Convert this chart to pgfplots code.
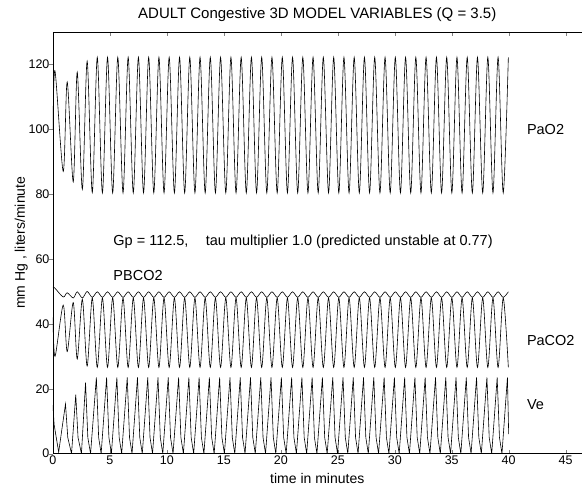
\documentclass[border=0pt]{standalone}
\usepackage{fontspec}
\setmainfont{Liberation Sans}
\usepackage{pgfplots}
\pgfplotsset{compat=1.18}
\usepackage{pgfplotstable}

% extrema of the gas curves: time, PaO2, PaCO2, PBCO2
\pgfplotstableread{
t pao2 paco2 pbco2
0.00 100 42 51.4
0.18 118 30 51.0
0.90 87 45.8 48.3
1.25 114.6 31.5 49.6
1.78 83.8 46.6 48.0
2.13 117.6 29.2 49.9
2.58 81.5 47.6 48.0
3.00 121 27 50.0
3.45 80.5 48 48.2
3.89 122.2 26.6 49.9
4.34 80.4 48 48.2
4.79 122.2 26.6 49.9
5.24 80.4 48 48.2
5.69 122.2 26.6 49.9
6.15 80.4 48 48.2
6.60 122.2 26.6 49.9
7.05 80.4 48 48.2
7.50 122.2 26.6 49.9
7.95 80.4 48 48.2
8.40 122.2 26.6 49.9
8.85 80.4 48 48.2
9.30 122.2 26.6 49.9
9.75 80.4 48 48.2
10.20 122.2 26.6 49.9
10.66 80.4 48 48.2
11.11 122.2 26.6 49.9
11.56 80.4 48 48.2
12.01 122.2 26.6 49.9
12.46 80.4 48 48.2
12.91 122.2 26.6 49.9
13.36 80.4 48 48.2
13.81 122.2 26.6 49.9
14.26 80.4 48 48.2
14.71 122.2 26.6 49.9
15.17 80.4 48 48.2
15.62 122.2 26.6 49.9
16.07 80.4 48 48.2
16.52 122.2 26.6 49.9
16.97 80.4 48 48.2
17.42 122.2 26.6 49.9
17.87 80.4 48 48.2
18.32 122.2 26.6 49.9
18.77 80.4 48 48.2
19.22 122.2 26.6 49.9
19.68 80.4 48 48.2
20.13 122.2 26.6 49.9
20.58 80.4 48 48.2
21.03 122.2 26.6 49.9
21.48 80.4 48 48.2
21.93 122.2 26.6 49.9
22.38 80.4 48 48.2
22.83 122.2 26.6 49.9
23.28 80.4 48 48.2
23.73 122.2 26.6 49.9
24.19 80.4 48 48.2
24.64 122.2 26.6 49.9
25.09 80.4 48 48.2
25.54 122.2 26.6 49.9
25.99 80.4 48 48.2
26.44 122.2 26.6 49.9
26.89 80.4 48 48.2
27.34 122.2 26.6 49.9
27.79 80.4 48 48.2
28.24 122.2 26.6 49.9
28.70 80.4 48 48.2
29.15 122.2 26.6 49.9
29.60 80.4 48 48.2
30.05 122.2 26.6 49.9
30.50 80.4 48 48.2
30.95 122.2 26.6 49.9
31.40 80.4 48 48.2
31.85 122.2 26.6 49.9
32.30 80.4 48 48.2
32.75 122.2 26.6 49.9
33.21 80.4 48 48.2
33.66 122.2 26.6 49.9
34.11 80.4 48 48.2
34.56 122.2 26.6 49.9
35.01 80.4 48 48.2
35.46 122.2 26.6 49.9
35.91 80.4 48 48.2
36.36 122.2 26.6 49.9
36.81 80.4 48 48.2
37.26 122.2 26.6 49.9
37.72 80.4 48 48.2
38.17 122.2 26.6 49.9
38.62 80.4 48 48.2
39.07 122.2 26.6 49.9
39.52 80.4 48 48.2
39.97 122.2 26.6 49.9
}\gases

% ventilation: peak, shoulder, zero for each breath
\pgfplotstableread{
t ve
0.00 15
0.10 9
0.50 0.5
1.10 15.3
1.30 5
1.63 0
2.00 18.2
2.20 5
2.50 0
2.86 21.9
3.06 5
3.30 0
3.81 23.5
4.01 5
4.23 0
4.71 23.5
4.91 5
5.13 0
5.61 23.5
5.81 5
6.03 0
6.52 23.5
6.72 5
6.94 0
7.42 23.5
7.62 5
7.84 0
8.32 23.5
8.52 5
8.74 0
9.22 23.5
9.42 5
9.64 0
10.12 23.5
10.32 5
10.54 0
11.03 23.5
11.23 5
11.45 0
11.93 23.5
12.13 5
12.35 0
12.83 23.5
13.03 5
13.25 0
13.73 23.5
13.93 5
14.15 0
14.63 23.5
14.83 5
15.05 0
15.54 23.5
15.74 5
15.96 0
16.44 23.5
16.64 5
16.86 0
17.34 23.5
17.54 5
17.76 0
18.24 23.5
18.44 5
18.66 0
19.14 23.5
19.34 5
19.56 0
20.05 23.5
20.25 5
20.47 0
20.95 23.5
21.15 5
21.37 0
21.85 23.5
22.05 5
22.27 0
22.75 23.5
22.95 5
23.17 0
23.65 23.5
23.85 5
24.07 0
24.56 23.5
24.76 5
24.98 0
25.46 23.5
25.66 5
25.88 0
26.36 23.5
26.56 5
26.78 0
27.26 23.5
27.46 5
27.68 0
28.16 23.5
28.36 5
28.58 0
29.07 23.5
29.27 5
29.49 0
29.97 23.5
30.17 5
30.39 0
30.87 23.5
31.07 5
31.29 0
31.77 23.5
31.97 5
32.19 0
32.67 23.5
32.87 5
33.09 0
33.58 23.5
33.78 5
34.00 0
34.48 23.5
34.68 5
34.90 0
35.38 23.5
35.58 5
35.80 0
36.28 23.5
36.48 5
36.70 0
37.18 23.5
37.38 5
37.60 0
38.09 23.5
38.29 5
38.51 0
38.99 23.5
39.19 5
39.41 0
39.89 23.5
40.00 6
}\vent

\begin{document}
\begin{tikzpicture}
\begin{axis}[scale only axis, width=529pt, height=422pt,
  xmin=0, xmax=46.4, ymin=0, ymax=130,
  axis x line*=box, axis y line*=left, axis line style={-, line width=0.8pt},
  xtick={0,5,...,45}, ytick={0,20,...,120},
  tick align=inside, major tick length=4pt,
  ytick style={xshift=-4pt},
  /pgf/number format/assume math mode=true,
  tick label style={font=\fontsize{12.5}{14}\selectfont},
  xticklabel style={yshift=1pt}, yticklabel style={xshift=0pt},
  xlabel={time in minutes}, ylabel={mm Hg , liters/minute},
  label style={font=\fontsize{14}{16}\selectfont},
  xlabel style={yshift=-1pt}, ylabel style={yshift=-6pt},
  title={ADULT Congestive 3D MODEL VARIABLES (Q = 3.5)},
  title style={font=\fontsize{15}{17}\selectfont, yshift=1pt}]
\addplot[black, line width=0.6pt, smooth] table[x=t, y=pao2] {\gases};
\addplot[black, line width=0.6pt, smooth] table[x=t, y=paco2] {\gases};
\addplot[black, line width=0.6pt, smooth] table[x=t, y=pbco2] {\gases};
\addplot[black, line width=0.6pt, sharp plot] table[x=t, y=ve] {\vent};
\node[anchor=west, font=\fontsize{14.5}{16}\selectfont] at (axis cs:41.3,100) {PaO2};
\node[anchor=west, font=\fontsize{14.5}{16}\selectfont] at (axis cs:41.3,35) {PaCO2};
\node[anchor=west, font=\fontsize{14.5}{16}\selectfont] at (axis cs:41.3,15) {Ve};
\node[anchor=west, font=\fontsize{14.5}{16}\selectfont] at (axis cs:5.0,55) {PBCO2};
\node[anchor=west, font=\fontsize{14.5}{16}\selectfont] at (axis cs:5.0,65.3) {Gp = 112.5,\hspace{1.2em}tau multiplier 1.0 (predicted unstable at 0.77)};
\end{axis}
\path[use as bounding box] (current axis.south west) ++(-53pt,-34pt) rectangle ++(582pt,488pt);
\end{tikzpicture}
\end{document}
